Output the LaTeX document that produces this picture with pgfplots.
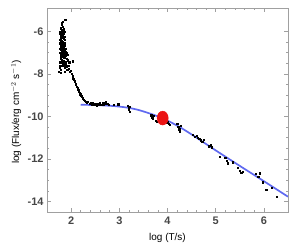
\documentclass[border=0pt]{standalone}
\usepackage{pgfplots}
\pgfplotsset{compat=1.18}
\usepackage{fontspec}
\setmainfont{Liberation Sans}
\definecolor{frame}{RGB}{160,160,160}
\definecolor{lab}{RGB}{70,70,70}
\definecolor{fitblue}{RGB}{95,105,240}
\definecolor{red1}{RGB}{235,20,20}
\begin{document}
\begin{tikzpicture}
\begin{axis}[
  scale only axis, width=241bp, height=204bp,
  at={(0,0)}, anchor=south west,
  xmin=1.5, xmax=6.5, ymin=-14.5, ymax=-4.9,
  xtick={2,3,4,5,6}, ytick={-14,-12,-10,-8,-6},
  minor x tick num=4, minor y tick num=3,
  tick align=inside,
  major tick length=4bp, minor tick length=2bp,
  axis line style={frame, line width=0.6pt},
  every tick/.style={frame, line width=0.5pt},
  tick label style={font=\fontsize{11}{12}\selectfont\bfseries, text=lab},
  /pgf/number format/assume math mode=true,
  xticklabel style={yshift=-1bp},
  xlabel={log (T/s)},
  ylabel={log (Flux/erg cm$^{-2}$ s$^{-1}$)},
  label style={font=\fontsize{11}{13}\selectfont\bfseries, text=lab},
  every axis x label/.style={at={(axis description cs:0.5,-0.127)},anchor=center},
  every axis y label/.style={at={(axis description cs:-0.128,0.49)},rotate=90,anchor=center},
  clip=true,
]
\addplot[no markers, fitblue, line width=1.7pt, smooth] coordinates {
(2.2,-9.45) (2.5,-9.47) (2.8,-9.5) (3.0,-9.54) (3.2,-9.6) (3.4,-9.7) (3.6,-9.84)
(3.8,-10.0) (4.0,-10.2) (4.25,-10.5) (4.5,-10.85) (5.0,-11.6) (5.5,-12.33)
(6.0,-13.05) (6.5,-13.78)};
\addplot[only marks, mark=square*, mark size=0.65pt, black] coordinates {
(1.80,-5.62) (1.83,-5.55) (1.88,-5.45) (1.79,-5.85) (1.82,-5.78) (1.84,-5.9) (1.81,-5.95) (1.78,-6.0) (1.83,-6.02)
(1.77,-6.1) (1.79,-6.15) (1.81,-6.1) (1.83,-6.18) (1.85,-6.12) (1.78,-6.25) (1.80,-6.3) (1.82,-6.28) (1.84,-6.35) (1.76,-6.4) (1.79,-6.42) (1.81,-6.45) (1.83,-6.48) (1.86,-6.4)
(1.77,-6.55) (1.79,-6.6) (1.80,-6.58) (1.82,-6.62) (1.84,-6.57) (1.78,-6.7) (1.81,-6.72) (1.83,-6.75) (1.85,-6.7) (1.87,-6.65) (1.76,-6.8) (1.79,-6.85) (1.82,-6.88) (1.84,-6.82) (1.86,-6.9) (1.80,-6.95) (1.88,-6.8)
(1.77,-7.0) (1.79,-7.05) (1.81,-7.02) (1.83,-7.08) (1.85,-7.05) (1.87,-7.1) (1.78,-7.15) (1.80,-7.2) (1.82,-7.18) (1.84,-7.22) (1.86,-7.25) (1.89,-7.15) (1.91,-7.3) (1.79,-7.3) (1.81,-7.35) (1.83,-7.4) (1.85,-7.38) (1.88,-7.42) (1.93,-7.35) (1.77,-7.45) (2.03,-7.4)
(1.76,-7.7) (1.78,-7.8) (1.80,-7.6) (1.82,-7.55) (1.85,-7.6) (1.87,-7.7) (1.90,-7.65) (1.92,-7.8) (1.95,-7.75) (1.97,-7.9) (1.99,-7.85) (1.75,-7.9)
(1.78,-6.35) (1.80,-6.05) (1.82,-6.5) (1.80,-6.78) (1.82,-7.0) (1.78,-7.25) (1.84,-7.5) (1.80,-7.45) (1.86,-6.25) (1.81,-5.7) (1.79,-6.5) (1.83,-6.9)
(1.87,-6.0) (1.86,-6.55) (1.88,-6.95) (1.90,-7.0) (1.92,-7.1) (1.89,-7.55) (1.94,-7.6) (1.76,-6.0) (1.77,-7.6) (1.87,-7.9) (1.79,-7.95) (1.96,-7.45)
(2.01,-8.0) (2.03,-8.1) (2.04,-8.2) (2.06,-8.25) (2.07,-8.35) (2.09,-8.45) (2.10,-8.5) (2.12,-8.6) (2.13,-8.68) (2.15,-8.75) (2.16,-8.82) (2.18,-8.9) (2.19,-8.95) (2.21,-9.02) (2.22,-9.08) (2.24,-9.15) (2.26,-9.2) (2.28,-9.25) (2.30,-9.3)
(2.32,-9.35) (2.35,-9.3) (2.38,-9.4) (2.40,-9.35) (2.43,-9.42) (2.45,-9.38) (2.48,-9.45) (2.50,-9.4) (2.53,-9.48) (2.55,-9.42) (2.58,-9.46) (2.60,-9.38) (2.63,-9.44) (2.65,-9.35) (2.68,-9.42) (2.70,-9.38) (2.72,-9.32) (2.75,-9.4) (2.78,-9.45) (2.88,-9.46) (2.98,-9.42) (3.17,-9.5) (3.19,-9.6) (3.20,-9.7) (3.21,-9.78) (3.22,-9.55)
(3.66,-9.95) (3.68,-10.05) (3.70,-10.1) (3.72,-9.98) (3.75,-10.2) (3.77,-10.25)
(3.95,-10.2) (3.98,-10.3) (4.00,-10.25) (4.02,-10.35) (4.05,-10.4) (4.20,-10.35) (4.22,-10.5) (4.24,-10.6) (4.26,-10.72) (4.28,-10.45)
(4.53,-10.85) (4.56,-10.95) (4.60,-10.9) (4.63,-11.0) (4.66,-11.05) (4.69,-11.12) (4.72,-11.2) (4.75,-11.1) (4.86,-11.4) (4.89,-11.35) (4.92,-11.45)
(5.09,-11.9) (5.20,-11.95) (5.23,-12.1) (5.25,-12.2) (5.36,-12.15) (5.46,-12.4) (5.50,-12.55) (5.53,-12.65) (5.56,-12.6)
(5.83,-12.7) (5.88,-12.85) (5.91,-12.68) (5.97,-13.1) (6.05,-13.45) (6.16,-13.37) (6.26,-13.78)};
\addplot[only marks, mark=*, red1, mark size=7pt, mark options={xscale=0.8}] coordinates {(3.9,-10.08)};
\end{axis}
\path[use as bounding box] (-47bp,-37bp) rectangle (260bp,212bp);
\end{tikzpicture}
\end{document}
